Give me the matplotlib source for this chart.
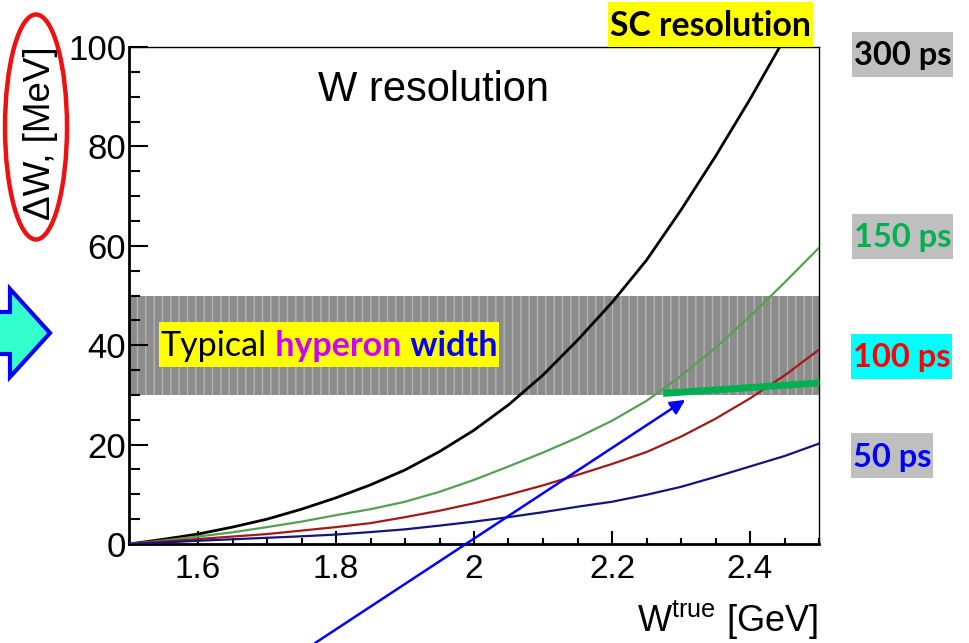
import matplotlib
matplotlib.use("Agg")
import matplotlib.pyplot as plt
from matplotlib.patches import Rectangle, Ellipse, Polygon
from matplotlib.ticker import MultipleLocator

plt.rcParams['font.family'] = ['Liberation Sans', 'DejaVu Sans']
plt.rcParams['mathtext.fontset'] = 'custom'
plt.rcParams['mathtext.rm'] = 'Liberation Sans'
plt.rcParams['hatch.linewidth'] = 1.0

# ---------------- data ----------------
w_true = [1.50, 1.55, 1.60, 1.65, 1.70, 1.75, 1.80, 1.85, 1.90, 1.95, 2.00,
          2.05, 2.10, 2.15, 2.20, 2.25, 2.30, 2.35, 2.40, 2.45, 2.50]
w_true_300 = [1.50, 1.55, 1.60, 1.65, 1.70, 1.75, 1.80, 1.85, 1.90, 1.95, 2.00,
              2.05, 2.10, 2.15, 2.20, 2.25, 2.30, 2.35, 2.40, 2.45]
res_300ps = [0.0, 0.95, 2.0, 3.4, 5.0, 7.0, 9.3, 11.9, 14.9, 18.6, 22.9,
             28.0, 34.0, 41.0, 48.6, 57.1, 67.2, 78.0, 89.5, 101.7]
res_150ps = [0.0, 0.7, 1.5, 2.35, 3.4, 4.5, 5.8, 7.0, 8.5, 10.5, 12.9,
             15.6, 18.4, 21.4, 24.8, 28.8, 33.8, 39.5, 45.8, 52.6, 59.6]
res_100ps = [0.0, 0.5, 1.0, 1.5, 2.0, 2.7, 3.4, 4.2, 5.4, 6.7, 8.2,
             9.9, 11.8, 13.9, 16.1, 18.5, 21.6, 25.2, 29.3, 33.9, 39.1]
res_50ps = [0.0, 0.3, 0.65, 0.95, 1.25, 1.55, 1.9, 2.4, 2.95, 3.7, 4.5,
            5.4, 6.4, 7.5, 8.5, 9.9, 11.5, 13.5, 15.6, 17.7, 20.2]
band_lo, band_hi = 30, 50
sc_line_x = [2.274, 2.5]
sc_line_y = [30.3, 32.4]
arrow_from = (1.770, -19.9)
arrow_to = (2.306, 29.0)
xticks = [1.6, 1.8, 2.0, 2.2, 2.4]
xtick_labels = ["1.6", "1.8", "2", "2.2", "2.4"]
yticks = [0, 20, 40, 60, 80, 100]
ytick_labels = ["0", "20", "40", "60", "80", "100"]

W, H = 969, 643
fig = plt.figure(figsize=(W / 100, H / 100), dpi=100)
fig.patch.set_facecolor('white')

def fx(x):
    return x / W

def fy(y):
    return 1 - y / H

ax = fig.add_axes([fx(129), fy(544), (819 - 129) / W, (544 - 47) / H])
ax.set_xlim(1.5, 2.5)
ax.set_ylim(0, 100)

ax.axhspan(band_lo, band_hi, facecolor='#8c8c8c', edgecolor='#b4b4b4',
           hatch='||', linewidth=0, zorder=1)

ax.plot(w_true_300, res_300ps, color='black', lw=2.0, zorder=3)
ax.plot(w_true, res_150ps, color='#55a055', lw=1.6, zorder=3)
ax.plot(w_true, res_100ps, color='#a31818', lw=1.6, zorder=3)
ax.plot(w_true, res_50ps, color='#14147a', lw=1.6, zorder=3)

ax.plot(sc_line_x, sc_line_y, color='#00b050', lw=5, zorder=4, solid_capstyle='butt')
ax.annotate('', xy=arrow_to, xytext=arrow_from, xycoords='data', textcoords='data',
            annotation_clip=False,
            arrowprops=dict(arrowstyle='-|>', color='#0000ff', lw=1.8, mutation_scale=22,
                            shrinkA=0, shrinkB=0), zorder=5)

ax.set_xticks(xticks)
ax.set_xticklabels(xtick_labels)
ax.set_yticks(yticks)
ax.set_yticklabels(ytick_labels)
ax.xaxis.set_minor_locator(MultipleLocator(0.05))
ax.yaxis.set_minor_locator(MultipleLocator(5))
ax.tick_params(axis='x', which='major', direction='in', length=9.5, width=1.5,
               labelsize=24, pad=7, top=False)
ax.tick_params(axis='x', which='minor', direction='in', length=4.5, width=1.5, top=False)
ax.tick_params(axis='y', which='major', direction='in', length=14, width=1.5,
               labelsize=25, pad=2, right=False)
ax.tick_params(axis='y', which='minor', direction='in', length=8, width=1.5, right=False)
for s in ['left', 'bottom']:
    ax.spines[s].set_linewidth(2.0)
for s in ['top', 'right']:
    ax.spines[s].set_linewidth(1.0)

ax.text(0.274, 0.913, 'W resolution', transform=ax.transAxes, fontsize=30,
        ha='left', va='center')

fig.text(fx(818), fy(620), r'W$^{\mathrm{true}}$ [GeV]', fontsize=26, ha='right', va='center')
fig.text(fx(41), fy(46), '\u0394W, [MeV]', fontsize=26.5, rotation=90, ha='center', va='top')

# ---------------- overlay annotations (pixel coordinates) ----------------
ov = fig.add_axes([0, 0, 1, 1], zorder=10)
ov.set_xlim(0, W)
ov.set_ylim(H, 0)
ov.axis('off')
ov.patch.set_alpha(0)

ov.add_patch(Ellipse((36, 127), 62, 225, fill=False, edgecolor='#ee1111', lw=3.2))
ov.add_patch(Polygon([(-20, 312), (10, 312), (10, 289), (50, 333), (10, 377), (10, 354), (-20, 354)],
                     closed=True, facecolor='#33ffcc', edgecolor='#0000ff', lw=3))

def box(x0, x1, y0, y1, color):
    ov.add_patch(Rectangle((x0, y0), x1 - x0, y1 - y0, facecolor=color, edgecolor='none'))

bold = dict(family=['Lato', 'DejaVu Sans'], fontweight='bold')
box(608, 813, 2, 47, '#ffff00')
ov.text(710.5, 26, 'SC resolution', fontsize=24.3, ha='center', va='center', color='black', **bold)
box(852, 953, 32, 77, '#bfbfbf')
ov.text(854, 56, '300 ps', fontsize=23.5, ha='left', va='center', color='black', **bold)
box(852, 953, 214, 259, '#bfbfbf')
ov.text(854, 238, '150 ps', fontsize=23.5, ha='left', va='center', color='#00b050', **bold)
box(851, 952, 334, 379, '#00ffff')
ov.text(853, 358, '100 ps', fontsize=23.5, ha='left', va='center', color='#ff0000', **bold)
box(851, 933, 433, 478, '#bfbfbf')
ov.text(853, 457, '50 ps', fontsize=23.5, ha='left', va='center', color='#0000ff', **bold)

box(159, 499, 322, 367, '#ffff00')
t1 = ov.text(161, 356, 'Typical', fontsize=24.5, ha='left', va='baseline', color='black',
             family=['Lato', 'DejaVu Sans'])
t2 = ov.annotate(' hyperon', xy=(1, 0), xycoords=t1, fontsize=24.5, ha='left', va='bottom',
                 color='#cc00ff', **bold)
t3 = ov.annotate(' width', xy=(1, 0), xycoords=t2, fontsize=24.5, ha='left', va='bottom',
                 color='#0000ff', **bold)

fig.savefig('out.png', dpi=100, facecolor='white')
